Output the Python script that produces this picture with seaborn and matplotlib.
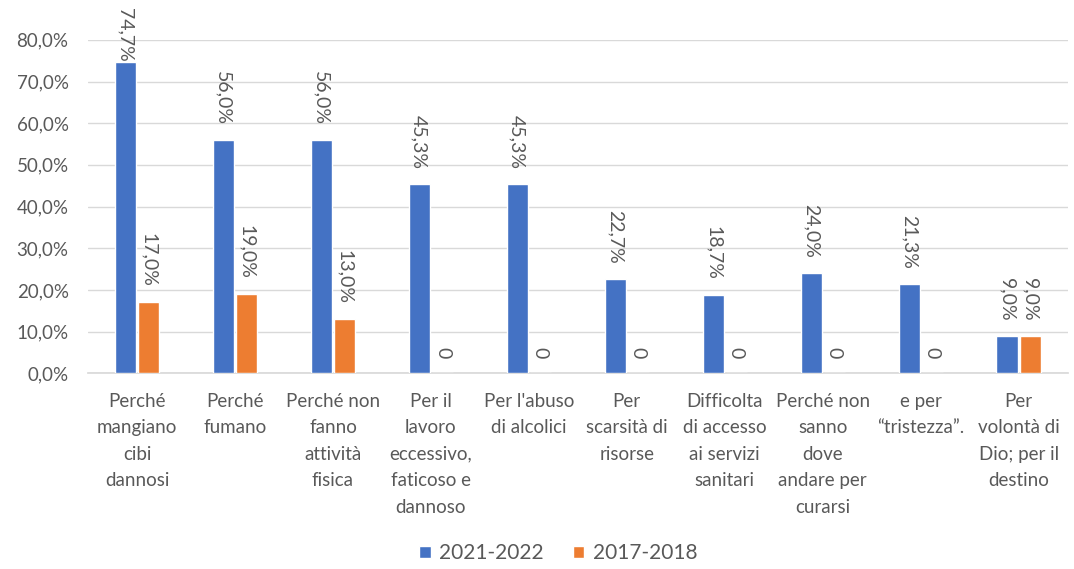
import pandas as pd
import seaborn as sns
import numpy as np
import matplotlib.pyplot as plt

categorie = ["Perché\nmangiano\ncibi\ndannosi", "Perché\nfumano",
             "Perché non\nfanno\nattività\nfisica",
             "Per il\nlavoro\neccessivo,\nfaticoso e\ndannoso",
             "Per l'abuso\ndi alcolici", "Per\nscarsità di\nrisorse",
             "Difficolta\ndi accesso\nai servizi\nsanitari",
             "Perché non\nsanno\ndove\nandare per\ncurarsi",
             "e per\n“tristezza”.", "Per\nvolontà di\nDio; per il\ndestino"]
val_2021 = [74.7, 56.0, 56.0, 45.3, 45.3, 22.7, 18.7, 24.0, 21.3, 9.0]
val_2017 = [17.0, 19.0, 13.0, 0, 0, 0, 0, 0, 0, 9.0]
periodi = ["2021-2022", "2017-2018"]
colori = ["#4472C4", "#ED7D31"]
yticks = [0, 10, 20, 30, 40, 50, 60, 70, 80]

df = pd.DataFrame({
    'Categoria': categorie * 2,
    'Periodo': [periodi[0]] * len(categorie) + [periodi[1]] * len(categorie),
    'Valore': val_2021 + val_2017,
})

sns.set_theme(style="white")
plt.rcParams['font.family'] = ['Lato', 'DejaVu Sans']
grigio = "#595959"

fig = plt.figure(figsize=(10.74, 5.69), dpi=100)
ax = fig.add_axes([0.082, 0.344, 0.912, 0.586])

sns.barplot(data=df, x='Categoria', y='Valore', hue='Periodo', hue_order=periodi,
            palette=colori, width=0.47, gap=0.08, ax=ax, errorbar=None,
            saturation=1, zorder=3)

ax.set_ylim(0, 80)
ax.set_xlim(-0.5, len(categorie) - 0.5)
ax.set_yticks(yticks)
ax.set_yticklabels([f"{t:.1f}%".replace('.', ',') for t in yticks])
ax.yaxis.grid(True, color="#D9D9D9", linewidth=1, zorder=0)
for s in ['top', 'right', 'left']:
    ax.spines[s].set_visible(False)
ax.spines['bottom'].set_color("#D9D9D9")
ax.tick_params(axis='y', length=0, pad=14, labelsize=13.5, labelcolor=grigio)
ax.tick_params(axis='x', length=0, pad=14, labelsize=13.5, labelcolor=grigio)
for lab in ax.get_xticklabels():
    lab.set_linespacing(1.68)
ax.set_xlabel("")
ax.set_ylabel("")

# etichette dei valori, ruotate
for cont in ax.containers:
    for bar in cont:
        v = bar.get_height()
        txt = "0" if v == 0 else f"{v:.1f}%".replace('.', ',')
        off = 0 if v > 70 else 11
        ax.annotate(txt, (bar.get_x() + bar.get_width() / 2, v),
                    xytext=(0, off), textcoords='offset points',
                    rotation=270, ha='center', va='bottom',
                    fontsize=14, color=grigio, annotation_clip=False)

ax.legend(loc='center', bbox_to_anchor=(0.48, -0.54), ncol=2,
          frameon=False, fontsize=15, handlelength=0.55, handleheight=0.55,
          handletextpad=0.4, columnspacing=1.4, labelcolor=grigio)

fig.savefig("out.png", dpi=100)
